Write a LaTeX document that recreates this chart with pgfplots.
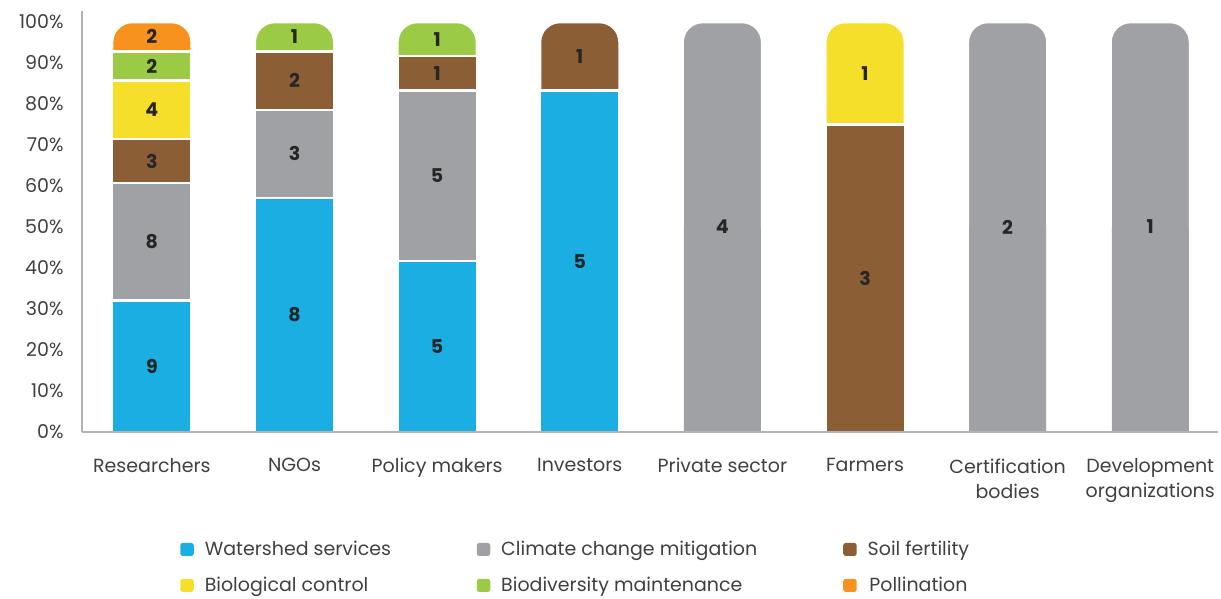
\documentclass[border=0pt]{standalone}
\usepackage{pgfplots}
\pgfplotsset{compat=1.18}
\usepackage{fontspec}
\setmainfont{Poppins}
\definecolor{cblue}{HTML}{1BAEE3}
\definecolor{cgray}{HTML}{A0A1A5}
\definecolor{cbrown}{HTML}{8C5E35}
\definecolor{cyellow}{HTML}{F5DF2B}
\definecolor{cgreen}{HTML}{9BCA45}
\definecolor{corange}{HTML}{F7921E}
\definecolor{txt}{HTML}{404040}
\definecolor{axc}{HTML}{B3B3B5}
\begin{document}
\begin{tikzpicture}[font=\fontsize{19bp}{25bp}\selectfont]
\begin{axis}[name=ax, at={(0,0)}, anchor=south west,
  scale only axis, width=1136bp, height=421bp,
  xmin=-0.49, xmax=7.475, ymin=0, ymax=102.7,
  axis lines=left, axis line style={-, draw=axc, line width=2bp},
  axis on top,
  major tick length=0pt,
  xtick={0,...,7},
  xticklabels={Researchers, NGOs, Policy makers, Investors, Private sector, Farmers, {Certification\\bodies}, {Development\\organizations}},
  xticklabel style={align=center, text=txt, yshift=-23bp, font=\fontsize{19bp}{25bp}\selectfont},
  ytick={0,10,...,100},
  yticklabel={\pgfmathprintnumber{\tick}\%},
  yticklabel style={text=txt, xshift=-15bp},
  /pgf/number format/assume math mode=true,
  legend columns=3,
  legend style={at={(0.0837,-0.25)}, anchor=north west, draw=none, fill=none,
    text=txt, row sep=16bp, /tikz/every even column/.append style={column sep=0pt}},
  legend image code/.code={\fill[#1, rounded corners=2.5bp] (0bp,-6.5bp) rectangle (13.5bp,6.5bp);},
]
\addlegendimage{fill=cblue, draw=none}
\addlegendentry{\hspace{9bp}\makebox[270bp][l]{Watershed services}}
\addlegendimage{fill=cgray, draw=none}
\addlegendentry{\hspace{9bp}\makebox[340bp][l]{Climate change mitigation}}
\addlegendimage{fill=cbrown, draw=none}
\addlegendentry{\hspace{9bp}Soil fertility}
\addlegendimage{fill=cyellow, draw=none}
\addlegendentry{\hspace{9bp}\makebox[270bp][l]{Biological control}}
\addlegendimage{fill=cgreen, draw=none}
\addlegendentry{\hspace{9bp}\makebox[340bp][l]{Biodiversity maintenance}}
\addlegendimage{fill=corange, draw=none}
\addlegendentry{\hspace{9bp}Pollination}

% top segments (rounded)
\addplot[ybar, bar width=79.5bp, bar shift=0pt, fill=corange, draw=white, line width=2.5bp, rounded corners=20bp, forget plot] coordinates {(0,100)};
\addplot[ybar, bar width=79.5bp, bar shift=0pt, fill=cgreen, draw=white, line width=2.5bp, rounded corners=20bp, forget plot] coordinates {(1,100) (2,100)};
\addplot[ybar, bar width=79.5bp, bar shift=0pt, fill=cbrown, draw=white, line width=2.5bp, rounded corners=20bp, forget plot] coordinates {(3,100)};
\addplot[ybar, bar width=79.5bp, bar shift=0pt, fill=cgray, draw=white, line width=2.5bp, rounded corners=20bp, forget plot] coordinates {(4,100) (6,100) (7,100)};
\addplot[ybar, bar width=79.5bp, bar shift=0pt, fill=cyellow, draw=white, line width=2.5bp, rounded corners=20bp, forget plot] coordinates {(5,100)};
% square bottoms for single-segment bars
\addplot[ybar, bar width=77bp, bar shift=0pt, fill=cgray, draw=none, forget plot] coordinates {(4,50) (6,50) (7,50)};
% lower segments (cumulative shares)
\addplot[ybar, bar width=79.5bp, bar shift=0pt, fill=cgreen, draw=white, line width=2.5bp, forget plot] coordinates {(0,92.86)};
\addplot[ybar, bar width=79.5bp, bar shift=0pt, fill=cyellow, draw=white, line width=2.5bp, forget plot] coordinates {(0,85.71)};
\addplot[ybar, bar width=79.5bp, bar shift=0pt, fill=cbrown, draw=white, line width=2.5bp, forget plot] coordinates {(0,71.43) (1,92.86) (2,91.67) (5,75)};
\addplot[ybar, bar width=79.5bp, bar shift=0pt, fill=cgray, draw=white, line width=2.5bp, forget plot] coordinates {(0,60.71) (1,78.57) (2,83.33)};
\addplot[ybar, bar width=79.5bp, bar shift=0pt, fill=cblue, draw=white, line width=2.5bp, forget plot] coordinates {(0,32.14) (1,57.14) (2,41.67) (3,83.33)};
% counts at segment centres
\addplot[draw=none, mark=none, nodes near coords, point meta=explicit symbolic,
  every node near coord/.append style={anchor=center, font=\fontsize{19bp}{23bp}\selectfont\bfseries, text=black!85},
  forget plot] table[meta=l] {
x y l
0 16.07 9
0 46.43 8
0 66.07 3
0 78.57 4
0 89.29 2
0 96.43 2
1 28.57 8
1 67.86 3
1 85.71 2
1 96.43 1
2 20.83 5
2 62.5 5
2 87.5 1
2 95.83 1
3 41.67 5
3 91.67 1
4 50 4
5 37.5 3
5 87.5 1
6 50 2
7 50 1
};
\end{axis}
\path[use as bounding box] ([shift={(-82bp,-166bp)}]ax.south west) rectangle ([shift={(3bp,11bp)}]ax.north east);
\end{tikzpicture}
\end{document}
